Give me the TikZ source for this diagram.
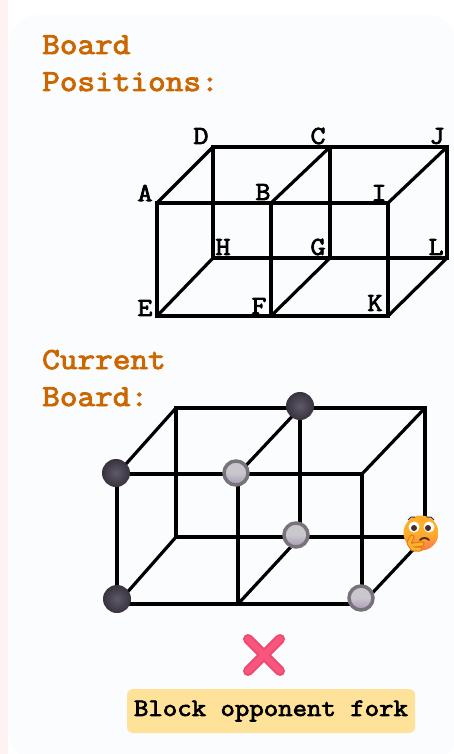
\documentclass[tikz,border=0pt]{standalone}
\usepackage{fontspec}
\newfontfamily\boardfont[FakeStretch=1.12,FakeBold=3]{Latin Modern Mono}
\definecolor{cardbg}{HTML}{FBFCFE}
\definecolor{stripbg}{HTML}{FFF2F2}
\definecolor{titleorange}{HTML}{CC6600}
\definecolor{notebg}{HTML}{FFE299}
\definecolor{crosspink}{HTML}{F9557F}
\definecolor{crossedge}{HTML}{EC4A70}
\definecolor{balldark}{HTML}{38323F}
\definecolor{ballmid}{HTML}{5E5A66}
\definecolor{ringgray}{HTML}{77737B}
\definecolor{balltop}{HTML}{C9C7CC}
\definecolor{ballbottom}{HTML}{A898B8}
\definecolor{faceyellow}{HTML}{FFAE2C}
\definecolor{facered}{HTML}{FA7A4A}
\definecolor{handorange}{HTML}{FFB02E}
\definecolor{handedge}{HTML}{E07A10}
\definecolor{facedark}{HTML}{4A2A2A}
\begin{document}
\begin{tikzpicture}[
        x=1pt, y=-1pt,
        title/.style={text=titleorange, font=\boardfont\fontsize{30.6}{32}\selectfont, anchor=base west, inner sep=0pt},
        letter/.style={font=\boardfont\fontsize{26}{28}\selectfont, inner sep=0pt},
        edge/.style={draw=black, line width=3.2pt, line join=miter},
        darkball/.style={circle, minimum size=28pt, inner sep=0pt, inner color=ballmid, outer color=balldark},
        lightball/.style={circle, minimum size=24pt, inner sep=0pt, draw=ringgray, line width=3.5pt, top color=balltop, bottom color=ballbottom, middle color=balltop},
        note/.style={fill=notebg, rounded corners=6pt, minimum width=288pt, minimum height=44pt, font=\boardfont\fontsize{25}{26}\selectfont},
    ]
    \useasboundingbox (0,0) rectangle (454,754);
    \fill[white] (0,0) rectangle (454,754);
    \fill[stripbg] (0,0) rectangle (8,754);
    \fill[cardbg, rounded corners=32pt] (8,15) rectangle (458,762);

    \node[title](title1) at (42,54){Board};
    \node[title](title2) at (42,91){Positions:};
    \node[title](title3) at (42,369){Current};
    \node[title](title4) at (42,406){Board:};

    % first cube
    \coordinate (A) at (157,203);
    \coordinate (B) at (271,203);
    \coordinate (I) at (388,203);
    \coordinate (D) at (213,147);
    \coordinate (C) at (330,147);
    \coordinate (J) at (447,147);
    \coordinate (E) at (157,316);
    \coordinate (F) at (271,316);
    \coordinate (K) at (388,316);
    \coordinate (H) at (213,258);
    \coordinate (G) at (330,258);
    \coordinate (L) at (447,258);
    \draw[edge] (A) -- (B) -- (I) -- (K) -- (F) -- (E) -- cycle;
    \draw[edge] (D) -- (C) -- (J) -- (L) -- (G) -- (H) -- cycle;
    \draw[edge] (A) -- (D) (B) -- (C) (I) -- (J);
    \draw[edge] (E) -- (H) (F) -- (G) (K) -- (L);
    \draw[edge] (B) -- (F) (C) -- (G);

    \node[letter](labelD) at (201,136){D};
    \node[letter](labelC) at (318,136){C};
    \node[letter](labelJ) at (437,136){J};
    \node[letter](labelA) at (145,193){A};
    \node[letter](labelB) at (263,192){B};
    \node[letter](labelI) at (379,193){I};
    \node[letter](labelH) at (223,247){H};
    \node[letter](labelG) at (318,247){G};
    \node[letter](labelL) at (436,247){L};
    \node[letter](labelE) at (145,308){E};
    \node[letter](labelF) at (259,306){F};
    \node[letter](labelK) at (375,303){K};

    % second cube
    \coordinate (a) at (117,474);
    \coordinate (b) at (238,474);
    \coordinate (i) at (362,474);
    \coordinate (d) at (176,408);
    \coordinate (c) at (300,408);
    \coordinate (j) at (425,408);
    \coordinate (e) at (117,604);
    \coordinate (f) at (238,604);
    \coordinate (k) at (362,604);
    \coordinate (h) at (176,537);
    \coordinate (g) at (300,537);
    \coordinate (l) at (425,537);
    \draw[edge] (a) -- (b) -- (i) -- (k) -- (f) -- (e) -- cycle;
    \draw[edge] (d) -- (c) -- (j) -- (l) -- (g) -- (h) -- cycle;
    \draw[edge] (a) -- (d) (b) -- (c) (i) -- (j);
    \draw[edge] (e) -- (h) (f) -- (g) (k) -- (l);
    \draw[edge] (b) -- (f) (c) -- (g);

    \node[darkball](ball1) at (116,473){};
    \node[darkball](ball2) at (300,406){};
    \node[darkball](ball3) at (117,599){};
    \node[lightball](ball4) at (236,473){};
    \node[lightball](ball5) at (296,535){};
    \node[lightball](ball6) at (361,598){};

    % thinking face
    \node[circle, minimum size=35pt, inner sep=0pt, top color=faceyellow, bottom color=facered, middle color=faceyellow](face) at (421,533){};
    \fill[white] (414,527) circle (5.5pt) (429,527) circle (5.5pt);
    \fill[facedark] (414,528) circle (3pt) (428,528) circle (3pt);
    \draw[facedark, line width=1pt] (408,520) to[bend left=40] (415,517) (427,517) to[bend left=40] (434,520);
    \draw[facedark, line width=1.8pt, line cap=round] (420,540) to[bend left=50] (429,540);
    \draw[handedge, line width=5pt, line cap=round, line join=round] (413,549) -- (409,543) -- (412,537) (413,545) -- (422,544) (414,549) -- (420,549);
    \draw[handorange, line width=3pt, line cap=round, line join=round] (413,549) -- (409,543) -- (412,537) (413,545) -- (422,544) (414,549) -- (420,549);

    % cross
    \coordinate (cross1) at (248,639);
    \coordinate (cross2) at (280,671);
    \coordinate (cross3) at (280,639);
    \coordinate (cross4) at (248,671);
    \draw[crossedge, line width=10pt, line cap=round] (cross1) -- (cross2) (cross3) -- (cross4);
    \draw[crosspink, line width=6pt, line cap=round] (cross1) -- (cross2) (cross3) -- (cross4);

    \node[note](note) at (271,711){Block opponent fork};
\end{tikzpicture}
\end{document}
